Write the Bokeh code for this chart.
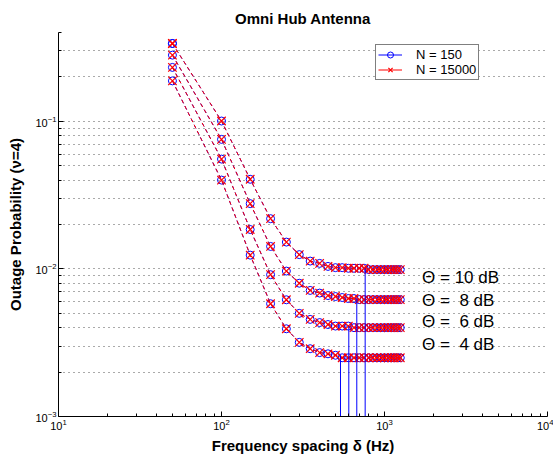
from bokeh.plotting import figure
from bokeh.models import FixedTicker, Legend, LegendItem, Label
from bokeh.embed import file_html
from bokeh.resources import INLINE

# ---------------- data ----------------
freq = [50, 100, 150, 200, 250, 300, 350, 400, 450, 500, 550, 600, 650,
        700, 750, 800, 850, 900, 950, 1000, 1050, 1100, 1150, 1200, 1250]

out_10db = [0.337, 0.1005, 0.0405, 0.0219, 0.0152, 0.0125, 0.0113, 0.0109,
            0.0104, 0.0102, 0.0102, 0.0101, 0.0101, 0.0101, 0.0101,
            0.0099, 0.0099, 0.0099, 0.0099, 0.0099, 0.0099, 0.0099, 0.0099,
            0.0099, 0.0099]
out_8db = [0.281, 0.0755, 0.0277, 0.0142, 0.00967, 0.0080, 0.00715, 0.00686,
           0.0066, 0.0065, 0.0064, 0.0063, 0.0063,
           0.0062, 0.0062, 0.0062, 0.0062, 0.0062, 0.0062, 0.0062, 0.0062,
           0.0062, 0.0062, 0.0062, 0.0062]
out_6db = [0.232, 0.0555, 0.0185, 0.00914, 0.00618, 0.0050, 0.00455, 0.00433,
           0.0042, 0.0041, 0.0041, 0.0041,
           0.0040, 0.0040, 0.0040, 0.0040, 0.0040, 0.0040, 0.0040, 0.0040,
           0.0040, 0.0040, 0.0040, 0.0040, 0.0040]
out_4db = [0.188, 0.040, 0.0124, 0.00581, 0.00393, 0.00318, 0.00288, 0.00271,
           0.00266, 0.0026,
           0.0025, 0.0025, 0.0025, 0.0025, 0.0025, 0.0025, 0.0025, 0.0025,
           0.0025, 0.0025, 0.0025, 0.0025, 0.0025, 0.0025, 0.0025]

curves_n150 = [out_10db, out_8db, out_6db, out_4db]
curves_n15000 = [out_10db, out_8db, out_6db, out_4db]

stem_x = [537, 604, 676, 761]
stem_top = [0.0026, 0.0041, 0.0063, 0.0101]
stem_bottom = [0.001, 0.001, 0.001, 0.001]

theta_labels = ["Θ = 10 dB", "Θ = \u00a08 dB", "Θ = \u00a06 dB", "Θ = \u00a04 dB"]
theta_label_y = [0.0088, 0.0061, 0.0044, 0.00306]

x_major = [10, 100, 1000, 10000]
y_major = [0.001, 0.01, 0.1]
x_minor = [m * d for d in (10, 100, 1000) for m in range(2, 10)]
y_minor = [m * d for d in (0.001, 0.01, 0.1) for m in range(2, 10) if m * d <= 0.4 + 1e-12]

FONT = "Liberation Sans"

p = figure(frame_width=489, frame_height=384, x_axis_type="log", y_axis_type="log",
           x_range=(10, 1e4), y_range=(1e-3, 0.4),
           output_backend="svg", toolbar_location=None,
           title="Omni Hub Antenna",
           min_border_left=58, min_border_right=6,
           min_border_top=32, min_border_bottom=36)
p.outline_line_color = None
p.background_fill_color = "white"
p.border_fill_color = "white"

p.title.align = "center"
p.title.text_font = FONT
p.title.text_font_size = "15px"
p.title.text_font_style = "bold"
p.title.text_color = "black"
p.title.standoff = 12

for ax, lab, maj, mnr in ((p.xaxis, "Frequency spacing δ (Hz)", x_major, x_minor),
                          (p.yaxis, "Outage Probability (ν=4)", y_major, y_minor)):
    ax.ticker = FixedTicker(ticks=maj, minor_ticks=mnr)
    ax.axis_label = lab
    ax.axis_label_text_font = FONT
    ax.axis_label_text_font_size = "15px"
    ax.axis_label_text_font_style = "bold"
    ax.axis_label_text_color = "black"
    ax.major_label_text_font = FONT
    ax.major_label_text_font_size = "11px"
    ax.major_label_text_color = "black"
    ax.major_tick_in = 5
    ax.major_tick_out = 0
    ax.minor_tick_in = 3
    ax.minor_tick_out = 0
    ax.axis_line_color = "black"
    ax.major_tick_line_color = "black"
    ax.minor_tick_line_color = "black"
    ax.major_label_standoff = 2

p.xaxis.axis_label_standoff = 4
p.yaxis.axis_label_standoff = 8

p.xgrid.visible = False
p.ygrid.grid_line_color = "#555555"
p.ygrid.grid_line_dash = "1 4"
p.ygrid.minor_grid_line_color = "#555555"
p.ygrid.minor_grid_line_dash = "1 4"

blue = "#0000ff"
red = "#ff0000"

for ys in curves_n150:
    p.line(freq, ys, line_color=blue, line_width=1, line_dash="4 3")
    p.scatter(freq, ys, marker="circle", size=8, fill_color=None,
              line_color=blue, line_width=1)
for ys in curves_n15000:
    p.line(freq, ys, line_color=red, line_width=1, line_dash="4 3")
    p.scatter(freq, ys, marker="x", size=12, line_color=red, line_width=1.2)

p.segment(x0=stem_x, y0=stem_bottom, x1=stem_x, y1=stem_top,
          line_color=blue, line_width=1)

for txt, yy in zip(theta_labels, theta_label_y):
    p.add_layout(Label(x=1700, y=yy, text=txt, text_font=FONT,
                       text_font_size="17px", text_baseline="middle",
                       text_color="black"))

# legend proxies: one existing point each (drawn over an identical marker),
# used only so that the legend shows solid line + marker swatches
lb_line = p.line(x=freq[:1], y=out_10db[:1], line_color=blue, line_width=1)
lb_mark = p.scatter(x=freq[:1], y=out_10db[:1], marker="circle", size=8,
                    fill_color=None, line_color=blue, line_width=1)
lr_line = p.line(x=freq[:1], y=out_10db[:1], line_color=red, line_width=1)
lr_mark = p.scatter(x=freq[:1], y=out_10db[:1], marker="x", size=12,
                    line_color=red, line_width=1.2)

legend = Legend(items=[LegendItem(label="N = 150", renderers=[lb_line, lb_mark]),
                       LegendItem(label="N = 15000", renderers=[lr_line, lr_mark])],
                location=(317, 336))
legend.border_line_color = "black"
legend.border_line_width = 1.5
legend.background_fill_color = "white"
legend.background_fill_alpha = 1
legend.label_text_font = FONT
legend.label_text_font_size = "13px"
legend.label_text_color = "black"
legend.padding = 2
legend.spacing = 0
legend.margin = 0
legend.glyph_width = 24
legend.glyph_height = 15
legend.label_height = 15
legend.label_standoff = 14
p.add_layout(legend)

open("out.html", "w").write(file_html(p, INLINE))
